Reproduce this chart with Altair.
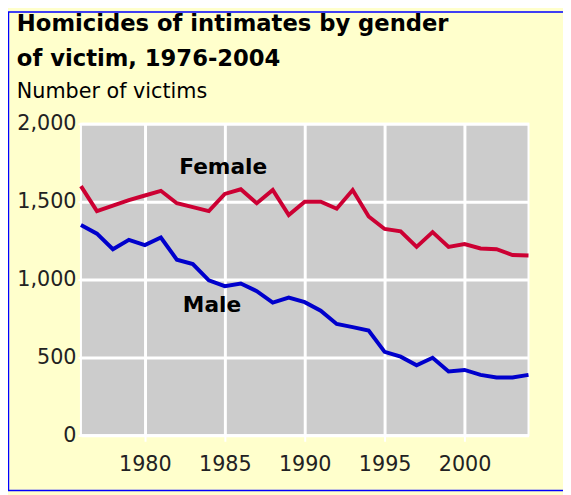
import altair as alt
import pandas as pd

years = list(range(1976, 2005))
female = [1600, 1440, 1475, 1510, 1540, 1570, 1490, 1465, 1440, 1550, 1580, 1490, 1575, 1415,
          1500, 1500, 1455, 1575, 1405, 1325, 1310, 1210, 1305, 1210, 1228, 1200, 1195, 1158, 1155]
male = [1350, 1295, 1195, 1255, 1222, 1270, 1128, 1100, 995, 958, 975, 926, 852, 884,
        855, 800, 715, 695, 673, 536, 505, 450, 498, 410, 420, 388, 371, 371, 388]

label_names = ["Female", "Male"]
label_years = [1984.9, 1984.2]
label_values = [1680, 790]

x_ticks = [1980, 1985, 1990, 1995, 2000]
y_ticks = [0, 500, 1000, 1500, 2000]

df = pd.DataFrame({
    "year": years * 2,
    "value": female + male,
    "gender": ["Female"] * len(years) + ["Male"] * len(years),
})
labels = pd.DataFrame({"year": label_years, "value": label_values, "label": label_names})

FONT = "DejaVu Sans"

x_enc = alt.X("year:Q",
              scale=alt.Scale(domain=[1976, 2004], nice=False, zero=False),
              axis=alt.Axis(values=x_ticks, format="d", title=None, grid=True,
                            gridColor="white", gridWidth=3, gridOpacity=1,
                            domainColor="white", domainWidth=2,
                            tickColor="white", tickWidth=2, tickSize=6,
                            labelFont=FONT, labelFontSize=21, labelColor="#222222",
                            labelPadding=13, labelFlush=False))
y_enc = alt.Y("value:Q",
              scale=alt.Scale(domain=[0, 2000], nice=False),
              axis=alt.Axis(values=y_ticks, format=",d", title=None, grid=True,
                            gridColor="white", gridWidth=3, gridOpacity=1,
                            domain=False, tickColor="white", tickWidth=2, tickSize=3,
                            labelFont=FONT, labelFontSize=21, labelColor="#222222",
                            labelPadding=2))

border = alt.Chart(pd.DataFrame({"k": [0]})).mark_rect(
    fill="transparent", stroke="#0000FF", strokeWidth=1.5
).encode(x=alt.value(-73.5), x2=alt.value(600), y=alt.value(-113.5), y2=alt.value(372))

lines = alt.Chart(df).mark_line(strokeWidth=4).encode(
    x=x_enc, y=y_enc,
    color=alt.Color("gender:N",
                    scale=alt.Scale(domain=["Female", "Male"], range=["#CC0033", "#0000CC"]),
                    legend=None),
)

texts = alt.Chart(labels).mark_text(
    font=FONT, fontSize=22, fontWeight="bold", color="black", align="center", baseline="alphabetic"
).encode(x="year:Q", y="value:Q", text="label:N")

chart = alt.layer(border, lines, texts).properties(
    width=454, height=316,
    autosize=alt.AutoSizeParams(type="none"),
    padding={"left": 74, "top": 114, "right": 35, "bottom": 57},
    title=alt.Title(
        text=["Homicides of intimates by gender", "of victim, 1976-2004"],
        subtitle="Number of victims",
        anchor="start", frame="group", dx=-65, dy=92, offset=0,
        font=FONT, fontSize=23, fontWeight="bold", color="black", lineHeight=36,
        subtitleFont=FONT, subtitleFontSize=21, subtitleColor="black", subtitlePadding=10,
    ),
).configure(background="#FFFFCC").configure_view(fill="#CCCCCC", stroke="white", strokeWidth=2)

chart.save("out.html", embed_options={"renderer": "svg", "actions": False})
